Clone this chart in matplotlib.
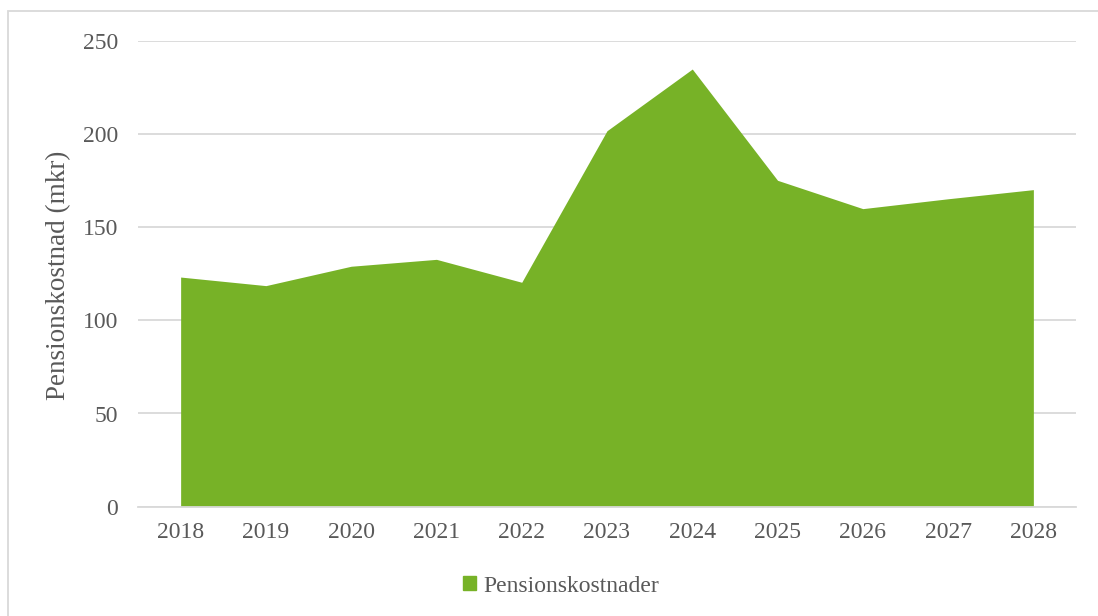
import matplotlib.pyplot as plt
import matplotlib.patches as mpatches
import numpy as np

years = ['2018', '2019', '2020', '2021', '2022', '2023', '2024', '2025', '2026', '2027', '2028']
pension_cost = [123.2, 118.6, 129.0, 132.7, 120.4, 201.7, 234.8, 175.1, 159.9, 165.2, 170.1]

green = '#77B227'
grid_col = '#D9D9D9'
text_col = '#595959'

plt.rcParams['font.family'] = ['Liberation Serif', 'DejaVu Serif']

fig = plt.figure(figsize=(10.98, 6.16), dpi=100)
ax = fig.add_axes([138/1098, 1 - 506.7/616, (1076 - 138)/1098, (506.7 - 40.7)/616])

x = np.arange(len(years))
ax.fill_between(x, 0, pension_cost, color=green, linewidth=0, zorder=2)

ax.set_xlim(-0.5, len(years) - 0.5)
ax.set_ylim(0, 250)
ax.set_yticks([0, 50, 100, 150, 200, 250])
ax.set_xticks(x)
ax.set_xticklabels(years)
ax.grid(axis='y', color=grid_col, linewidth=1.3, zorder=0)
ax.set_axisbelow(True)
for s in ['top', 'right', 'left']:
    ax.spines[s].set_visible(False)
ax.spines['bottom'].set_color(grid_col)
ax.spines['bottom'].set_linewidth(1.3)
ax.spines['bottom'].set_zorder(3)
ax.tick_params(axis='both', length=0, labelsize=17, labelcolor=text_col)
ax.tick_params(axis='y', pad=14.5)
ax.tick_params(axis='x', pad=11)

# y-axis title
fig.text(59/1098, 1 - 275/616, 'Pensionskostnad (mkr)', rotation=90, ha='center', va='center',
         fontsize=19.5, color=text_col)

# chart border (extends past the right and bottom edges)
border = mpatches.Rectangle((8/1098, -0.1), 1.2, 1 - 11/616 + 0.1, transform=fig.transFigure,
                            fill=False, edgecolor=grid_col, linewidth=1.3)
fig.patches.append(border)

handle = mpatches.Patch(color=green, label='Pensionskostnader')
fig.legend(handles=[handle], loc='center', bbox_to_anchor=(561/1098, 1 - 586/616),
           frameon=False, fontsize=17, labelcolor=text_col, handlelength=0.55,
           handleheight=0.55, handletextpad=0.3)

fig.savefig('out.png', dpi=100)
